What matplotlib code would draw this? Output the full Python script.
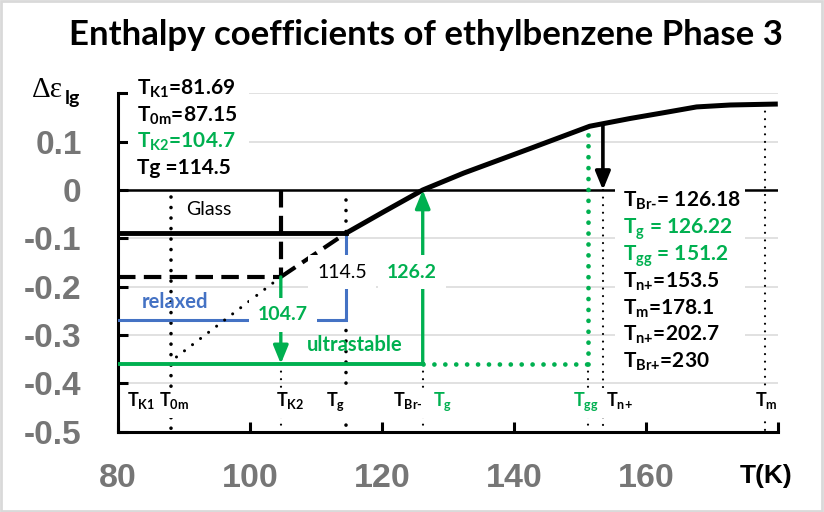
import matplotlib
matplotlib.use('Agg')
import matplotlib.pyplot as plt
from matplotlib.patches import Rectangle
from matplotlib import transforms

plt.rcParams['font.family'] = ['Lato', 'DejaVu Sans']
plt.rcParams['mathtext.fontset'] = 'custom'
plt.rcParams['mathtext.rm'] = 'Lato:bold'
plt.rcParams['mathtext.bf'] = 'Lato:bold'
plt.rcParams['mathtext.it'] = 'Lato:bold'
plt.rcParams['mathtext.sf'] = 'Lato:bold'
plt.rcParams['mathtext.default'] = 'regular'

# ---------------- data ----------------
x_ticks = [80, 100, 120, 140, 160, 180]
x_tick_labels = ['80', '100', '120', '140', '160', '']
y_ticks = [-0.5, -0.4, -0.3, -0.2, -0.1, 0.0, 0.1, 0.2]
y_tick_labels = ['-0.5', '-0.4', '-0.3', '-0.2', '-0.1', '0', '0.1', '']

# liquid / enthalpy coefficient curve
curve_T = [114.5, 120.3, 126.2, 132.4, 142.5, 151.5, 157.6, 162.7, 167.7, 172.8, 180.0]
curve_e = [-0.09, -0.045, 0.0, 0.035, 0.086, 0.132, 0.148, 0.160, 0.172, 0.176, 0.178]

# characteristic temperatures (line positions)
T_0m_line = 88.0
T_K2 = 104.7
T_g = 114.5
T_Br = 126.2
T_gg = 151.2
T_n = 153.5
T_m = 178.1

# levels
glass_level = -0.09
dashed_level = -0.18
relaxed_level = -0.27
ultra_level = -0.36
dotted_end = (88.0, -0.355)
T_gg_top = 0.131
T_n_top = 0.137
T_m_top = 0.178

left_info = [(r'T$_{K1}$=81.69', 'k'),
             (r'T$_{0m}$=87.15', 'k'),
             (r'T$_{K2}$=104.7', 'g'),
             ('Tg =114.5', 'k')]
right_info = [(r'T$_{\text{Br-}}$= 126.18', 'k'),
              (r'T$_{g}$ = 126.22', 'g'),
              (r'T$_{gg}$ = 151.2', 'g'),
              (r'T$_{\text{n+}}$=153.5', 'k'),
              (r'T$_{m}$=178.1', 'k'),
              (r'T$_{\text{n+}}$=202.7', 'k'),
              (r'T$_{\text{Br+}}$=230', 'k')]
bottom_labels = [r'T$_{K1}$', r'T$_{0m}$', r'T$_{K2}$', r'T$_{g}$', r'T$_{\text{Br-}}$',
                 r'T$_{g}$', r'T$_{gg}$', r'T$_{\text{n+}}$', r'T$_{m}$']
bottom_label_x = [81.4, 86.2, 104.0, 111.5, 121.7, 127.8, 148.9, 154.0, 176.5]
bottom_label_c = ['k', 'k', 'k', 'k', 'k', 'g', 'g', 'k', 'k']

GREEN = '#00B050'
BLUE = '#4472C4'
GRAY = '#767676'
cmap = {'k': 'black', 'g': GREEN}

W, H = 824, 512
fig = plt.figure(figsize=(W / 100, H / 100), dpi=100)


def fp(x, y):
    return (x / W, 1 - y / H)


ax = fig.add_axes([117.8 / W, (H - 431.5) / H, 660 / W, 338.1 / H])
ax.set_xlim(80, 180)
ax.set_ylim(-0.5, 0.2)
for s in ['top', 'right']:
    ax.spines[s].set_visible(False)
for s in ['left', 'bottom']:
    ax.spines[s].set_linewidth(2.2)
ax.set_xticks(x_ticks)
ax.set_xticklabels(x_tick_labels)
ax.set_yticks(y_ticks)
ax.set_yticklabels(y_tick_labels)
ax.tick_params(axis='both', direction='in', length=7, width=2.2, colors='black')
ax.tick_params(axis='x', pad=23, labelcolor=GRAY)
ax.tick_params(axis='y', pad=26, labelcolor=GRAY)
for lab in ax.get_xticklabels():
    lab.set_fontfamily('Liberation Sans'); lab.set_fontweight('bold'); lab.set_fontsize(24.5)
for lab in ax.get_yticklabels():
    lab.set_fontfamily('Liberation Sans'); lab.set_fontweight('bold'); lab.set_fontsize(24)
ax.grid(axis='y', color='#d9d9d9', lw=1.1, zorder=0)
ax.set_axisbelow(True)

# zero line
ax.axhline(0, color='black', lw=1.8, zorder=2)

# curve
ax.plot(curve_T, curve_e, color='black', lw=3.6, solid_capstyle='butt',
        solid_joinstyle='round', zorder=4)

# glass line
ax.plot([80, T_g], [glass_level, glass_level], color='black', lw=3.5, zorder=4)
# dashed glass (T_K2)
dash = (0, (4.2, 2.0))
ax.plot([80, T_K2], [dashed_level, dashed_level], color='black', lw=3, linestyle=dash, zorder=4)
ax.plot([T_K2, T_g], [dashed_level, glass_level], color='black', lw=3, linestyle=dash, zorder=4)
ax.plot([T_K2, T_K2], [0, dashed_level], color='black', lw=3, linestyle=dash, zorder=4)
# dotted extension down to T0m
ax.plot([T_K2, dotted_end[0]], [dashed_level, dotted_end[1]], color='black', lw=2.2,
        linestyle=(0, (0.01, 3.3)), dash_capstyle='round', zorder=4)

big_dot = dict(color='black', lw=2.6, linestyle=(0, (0.01, 2.9)), dash_capstyle='round', zorder=3)
small_dot = dict(color='black', lw=1.6, linestyle=(0, (0.01, 3.4)), dash_capstyle='round', zorder=3)

ax.plot([T_0m_line, T_0m_line], [-0.015, -0.5], **big_dot)
ax.plot([T_g, T_g], [-0.02, glass_level], **big_dot)
ax.plot([T_g, T_g], [relaxed_level, -0.5], **big_dot)
ax.plot([T_K2, T_K2], [ultra_level, -0.5], **small_dot)
ax.plot([T_Br, T_Br], [ultra_level, -0.5], **small_dot)
ax.plot([T_gg, T_gg], [ultra_level, -0.5], **small_dot)
ax.plot([T_n, T_n], [0, -0.5], **small_dot)
ax.plot([T_m, T_m], [T_m_top, -0.5], **small_dot)

# relaxed (blue)
ax.plot([80, T_g, T_g], [relaxed_level, relaxed_level, glass_level], color=BLUE, lw=2.2,
        solid_joinstyle='miter', zorder=3)

# ultrastable (green)
ax.plot([80, T_Br], [ultra_level, ultra_level], color=GREEN, lw=2.8, zorder=4)
green_dot = dict(color=GREEN, lw=3.4, linestyle=(0, (0.01, 2.3)), dash_capstyle='round', zorder=4)
ax.plot([T_Br, T_gg], [ultra_level, ultra_level], **green_dot)
ax.plot([T_gg, T_gg], [ultra_level, T_gg_top], **green_dot)

arrow_style = '-|>,head_length=1.1,head_width=0.45'
ax.annotate('', xy=(T_K2, ultra_level), xytext=(T_K2, dashed_level),
            arrowprops=dict(arrowstyle=arrow_style, color=GREEN, lw=2.4,
                            shrinkA=0, shrinkB=0), zorder=5)
ax.annotate('', xy=(T_Br, 0), xytext=(T_Br, ultra_level),
            arrowprops=dict(arrowstyle=arrow_style, color=GREEN, lw=2.4,
                            shrinkA=0, shrinkB=0), zorder=5)
ax.annotate('', xy=(T_n, 0), xytext=(T_n, T_n_top),
            arrowprops=dict(arrowstyle=arrow_style, color='black', lw=2.6,
                            shrinkA=0, shrinkB=0), zorder=5)

# ---------------- white boxes ----------------
def white_box(x0, y0, x1, y1):
    fig.patches.append(Rectangle(fp(x0, y1), (x1 - x0) / W, (y1 - y0) / H,
                                 transform=fig.transFigure, facecolor='white',
                                 edgecolor='none', zorder=1))

white_box(128, 74, 249, 183)
white_box(615, 187, 745, 377)
white_box(121, 388, 777, 418)

# ---------------- texts ----------------
for i, (t, c) in enumerate(left_info):
    fig.text(*fp(137, 95 + 26.4 * i), t, fontsize=15, fontweight='bold', color=cmap[c],
             va='baseline', ha='left', zorder=5)
for i, (t, c) in enumerate(right_info):
    fig.text(*fp(623, 207 + 26.8 * i), t, fontsize=15, fontweight='bold', color=cmap[c],
             va='baseline', ha='left', zorder=5)

blend = transforms.blended_transform_factory(ax.transData, fig.transFigure)
for t, xv, c in zip(bottom_labels, bottom_label_x, bottom_label_c):
    fig.text(xv, 1 - 406 / H, t, transform=blend, fontsize=13, fontweight='bold',
             color=cmap[c], va='baseline', ha='left', zorder=5)

fig.text(*fp(186, 215), 'Glass', fontsize=14, color='black', va='baseline', zorder=5)
fig.text(*fp(142, 302), 'relaxed', fontsize=14.5, fontweight='bold', color=BLUE,
         va='center', zorder=5)
fig.text(*fp(307, 345), 'ultrastable', fontsize=14.5, fontweight='bold', color=GREEN,
         va='center', zorder=5)
box = dict(facecolor='white', edgecolor='none', boxstyle='square,pad=0.45')
fig.text(*fp(283, 315), '104.7', fontsize=14, fontweight='bold', color=GREEN,
         va='center', ha='center', bbox=box, zorder=5)
fig.text(*fp(342, 272), '114.5', fontsize=14, color='black',
         va='center', ha='center', bbox=box, zorder=5)
fig.text(*fp(412, 272), '126.2', fontsize=14, fontweight='bold', color=GREEN,
         va='center', ha='center', bbox=box, zorder=5)

# axis titles
fig.text(*fp(32, 97), 'Δε', fontsize=21, family='Liberation Serif', color='black',
         va='baseline', ha='left')
fig.text(*fp(65, 104), 'lg', fontsize=14, fontweight='bold', color='black',
         va='baseline', ha='left')
fig.text(*fp(766, 476), 'T(K)', fontsize=19, family='Liberation Sans', fontweight='bold',
         color='black', va='center', ha='center')

# title
fig.text(*fp(426, 45), 'Enthalpy coefficients of ethylbenzene Phase 3', fontsize=25,
         fontweight='bold', color='black', va='baseline', ha='center')

# figure border
fig.patches.append(Rectangle((0.001, 0.002), 0.997, 0.996, transform=fig.transFigure,
                             facecolor='none', edgecolor='#d9d9d9', lw=2, zorder=0))

fig.savefig('out.png', dpi=100)
